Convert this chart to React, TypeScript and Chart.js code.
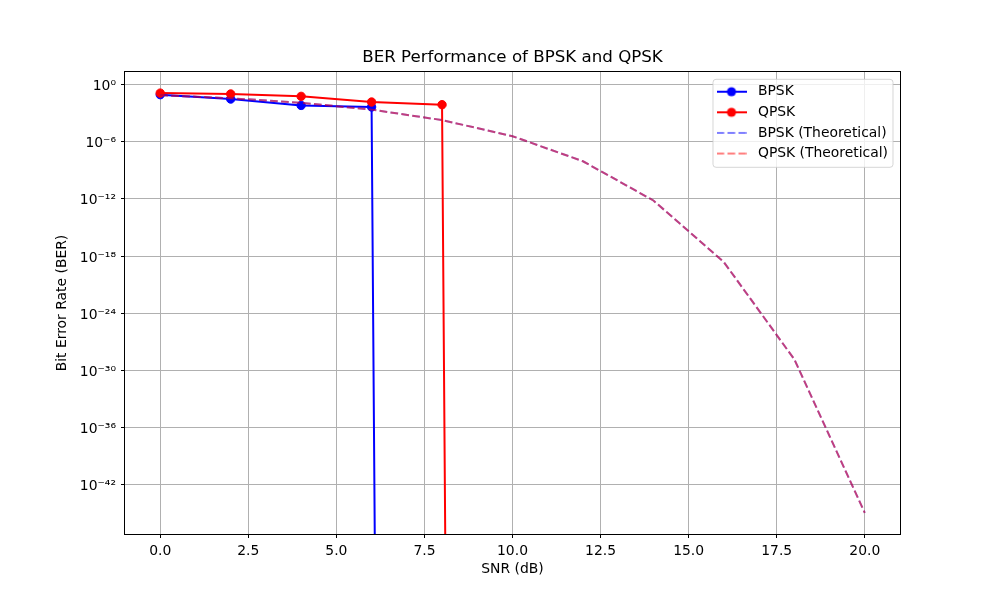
import React, { useEffect, useRef } from 'react';
import { Chart, registerables, LogarithmicScale } from 'chart.js';

// ---- data ----
const snrDb = [0, 2, 4, 6, 8, 10, 12, 14, 16, 18, 20];
const bpskSimulated = [0.089, 0.031, 0.0066, 0.0045, 0, 0, 0, 0, 0, 0, 0];
const qpskSimulated = [0.13, 0.105, 0.059, 0.015, 0.0079, 0, 0, 0, 0, 0, 0];
const bpskTheoretical = [7.86e-2, 3.75e-2, 1.25e-2, 2.39e-3, 1.91e-4, 3.87e-6, 9.0e-9, 6.8e-13, 2.3e-19, 1.4e-29, 1.05e-45];
const qpskTheoretical = [7.86e-2, 3.75e-2, 1.25e-2, 2.39e-3, 1.91e-4, 3.87e-6, 9.0e-9, 6.8e-13, 2.3e-19, 1.4e-29, 1.05e-45];
const seriesLabels = ['BPSK', 'QPSK', 'BPSK (Theoretical)', 'QPSK (Theoretical)'];
const xTickValues = [0, 2.5, 5, 7.5, 10, 12.5, 15, 17.5, 20];
const yTickExponents = [0, -6, -12, -18, -24, -30, -36, -42];

const FONT = 'DejaVu Sans';
const FS = 13.9;

const SUP: Record<string, string> = {
  '0': '⁰', '1': '¹', '2': '²', '3': '³', '4': '⁴', '5': '⁵', '6': '⁶', '7': '⁷', '8': '⁸', '9': '⁹', '-': '⁻',
};
const sup = (n: number) => String(n).split('').map((c) => SUP[c]).join('');

// log scale that, like matplotlib's clipping, sends zero values far below the axis
class ClipLogScale extends LogarithmicScale {
  static id = 'cliplog';
  parse(raw: any, index: number) {
    if (raw === 0) return 0;
    return (super.parse as any)(raw, index);
  }
  getPixelForValue(value: number) {
    if (value === 0) {
      const self: any = this;
      return this.getPixelForDecimal((-1000 - self._startValue) / self._valueRange);
    }
    return super.getPixelForValue(value);
  }
}

Chart.register(...registerables, ClipLogScale as any);

function makeHandle(color: string, dashed: boolean, marker: boolean) {
  const c = document.createElement('canvas');
  c.width = 30;
  c.height = 12;
  const g = c.getContext('2d')!;
  g.strokeStyle = color;
  g.lineWidth = 2;
  if (dashed) g.setLineDash([7.7, 3.3]);
  g.beginPath();
  g.moveTo(0, 6);
  g.lineTo(30, 6);
  g.stroke();
  if (marker) {
    g.setLineDash([]);
    g.fillStyle = color;
    g.beginPath();
    g.arc(15, 6, 4.6, 0, Math.PI * 2);
    g.fill();
  }
  return c;
}

const LEG_PAD = 6.7;
const LEG_BOXW = 39;

const framePlugin = {
  id: 'axesFrame',
  beforeDraw(chart: any) {
    const lg = chart.legend;
    if (!lg) return;
    const a = chart.chartArea;
    const fw = 180;
    const fh = 88;
    const fx = a.right - 7 - fw;
    const fy = a.top + 7.3;
    lg.left = fx + 18.5 - LEG_BOXW / 2 - LEG_PAD;
    lg.top = fy + 12.4 - FS / 2 - LEG_PAD;
    lg.right = a.right;
    lg.bottom = a.bottom;
    lg.width = lg.right - lg.left;
    lg.height = lg.bottom - lg.top;
    lg._frameBox = { fx, fy, fw, fh };
    if (!lg._wrappedDraw) {
      const orig = lg.draw;
      lg.draw = function (...args: any[]) {
        const ctx = chart.ctx;
        const b = this._frameBox;
        if (b) {
          ctx.save();
          ctx.beginPath();
          (ctx as any).roundRect(b.fx, b.fy, b.fw, b.fh, 3);
          ctx.fillStyle = 'rgba(255,255,255,0.8)';
          ctx.fill();
          ctx.lineWidth = 1;
          ctx.strokeStyle = 'rgba(204,204,204,0.8)';
          ctx.stroke();
          ctx.restore();
        }
        return orig.apply(this, args);
      };
      lg._wrappedDraw = true;
    }
  },
  afterDatasetsDraw(chart: any) {
    const a = chart.chartArea;
    const ctx = chart.ctx;
    ctx.save();
    ctx.strokeStyle = '#000';
    ctx.lineWidth = 1;
    const x0 = Math.round(a.left) - 0.5;
    const y0 = Math.round(a.top) - 0.5;
    const x1 = Math.round(a.right) + 0.5;
    const y1 = Math.round(a.bottom) + 0.5;
    ctx.strokeRect(x0, y0, x1 - x0, y1 - y0);
    ctx.restore();
  },
};

export default function App() {
  const ref = useRef<HTMLCanvasElement | null>(null);

  useEffect(() => {
    document.body.style.margin = '0';
    if (!ref.current) return;
    Chart.defaults.font.family = FONT;
    Chart.defaults.color = '#000';

    const handles = [
      makeHandle('#0000ff', false, true),
      makeHandle('#ff0000', false, true),
      makeHandle('rgba(0,0,255,0.5)', true, false),
      makeHandle('rgba(255,0,0,0.5)', true, false),
    ];

    const toXY = (ys: number[]) => snrDb.map((x, i) => ({ x, y: ys[i] }));

    const chart = new Chart(ref.current, {
      type: 'line',
      data: {
        datasets: [
          {
            label: seriesLabels[0],
            data: toXY(bpskSimulated),
            borderColor: '#0000ff',
            backgroundColor: '#0000ff',
            borderWidth: 2,
            borderJoinStyle: 'round',
            pointRadius: 4.2,
            pointBorderWidth: 1,
            pointBackgroundColor: '#0000ff',
            pointBorderColor: '#0000ff',
            order: 4,
          },
          {
            label: seriesLabels[1],
            data: toXY(qpskSimulated),
            borderColor: '#ff0000',
            backgroundColor: '#ff0000',
            borderWidth: 2,
            borderJoinStyle: 'round',
            pointRadius: 4.2,
            pointBorderWidth: 1,
            pointBackgroundColor: '#ff0000',
            pointBorderColor: '#ff0000',
            order: 3,
          },
          {
            label: seriesLabels[2],
            data: toXY(bpskTheoretical),
            borderColor: 'rgba(0,0,255,0.5)',
            backgroundColor: 'rgba(0,0,255,0.5)',
            borderWidth: 2,
            borderDash: [7.7, 3.3],
            pointRadius: 0,
            order: 2,
          },
          {
            label: seriesLabels[3],
            data: toXY(qpskTheoretical),
            borderColor: 'rgba(255,0,0,0.5)',
            backgroundColor: 'rgba(255,0,0,0.5)',
            borderWidth: 2,
            borderDash: [7.7, 3.3],
            pointRadius: 0,
            order: 1,
          },
        ],
      },
      options: {
        responsive: false,
        animation: false,
        events: [],
        layout: { padding: { left: 0, right: 100, top: 0, bottom: 0 }, autoPadding: false },
        scales: {
          x: {
            type: 'linear',
            min: -1,
            max: 21,
            afterBuildTicks: (s: any) => {
              s.ticks = xTickValues.map((v) => ({ value: v }));
            },
            afterFit: (s: any) => {
              s.height = 66;
            },
            ticks: {
              callback: (v: any) => Number(v).toFixed(1),
              font: { family: FONT, size: FS },
              color: '#000',
              padding: 5,
              maxRotation: 0,
              autoSkip: false,
            },
            grid: { color: '#b0b0b0', lineWidth: 1, tickColor: '#000', tickLength: 4, tickWidth: 1 },
            border: { display: false },
            title: {
              display: true,
              text: 'SNR (dB)',
              font: { family: FONT, size: FS },
              color: '#000',
              padding: { top: 0, bottom: 22 },
            },
          },
          y: {
            type: 'cliplog' as any,
            min: Math.pow(10, -47.2),
            max: Math.pow(10, 1.33),
            afterBuildTicks: (s: any) => {
              s.ticks = yTickExponents.map((e) => ({ value: Math.pow(10, e) }));
            },
            afterFit: (s: any) => {
              s.width = 125;
            },
            ticks: {
              callback: (v: any) => ['', '10' + sup(Math.round(Math.log10(Number(v))))],
              font: { family: FONT, size: FS, lineHeight: 0.28 },
              color: '#000',
              padding: 5,
              autoSkip: false,
            },
            grid: { color: '#b0b0b0', lineWidth: 1, tickColor: '#000', tickLength: 4, tickWidth: 1 },
            border: { display: false },
            title: {
              display: true,
              text: 'Bit Error Rate (BER)',
              font: { family: FONT, size: FS },
              color: '#000',
              padding: { top: 54, bottom: 0 },
            },
          },
        },
        plugins: {
          title: {
            display: true,
            text: 'BER Performance of BPSK and QPSK',
            font: { family: FONT, size: 16.67, weight: 'normal', lineHeight: 1.2 },
            color: '#000',
            padding: { top: 48, bottom: 4 },
            fullSize: false,
          },
          legend: {
            display: true,
            position: 'chartArea',
            align: 'start',
            labels: {
              font: { family: FONT, size: FS },
              color: '#000',
              usePointStyle: true,
              pointStyleWidth: LEG_BOXW,
              padding: LEG_PAD,
              generateLabels: (ch: any) =>
                ch.data.datasets.map((d: any, i: number) => ({
                  text: d.label,
                  pointStyle: handles[i],
                  fillStyle: d.borderColor,
                  strokeStyle: d.borderColor,
                  lineWidth: 0,
                  hidden: false,
                  datasetIndex: i,
                  fontColor: '#000',
                })),
            },
          },
          tooltip: { enabled: false },
        },
      } as any,
      plugins: [framePlugin],
    });

    return () => chart.destroy();
  }, []);

  return (
    <div style={{ width: 1000, height: 600 }}>
      <canvas ref={ref} width={1000} height={600} />
    </div>
  );
}
